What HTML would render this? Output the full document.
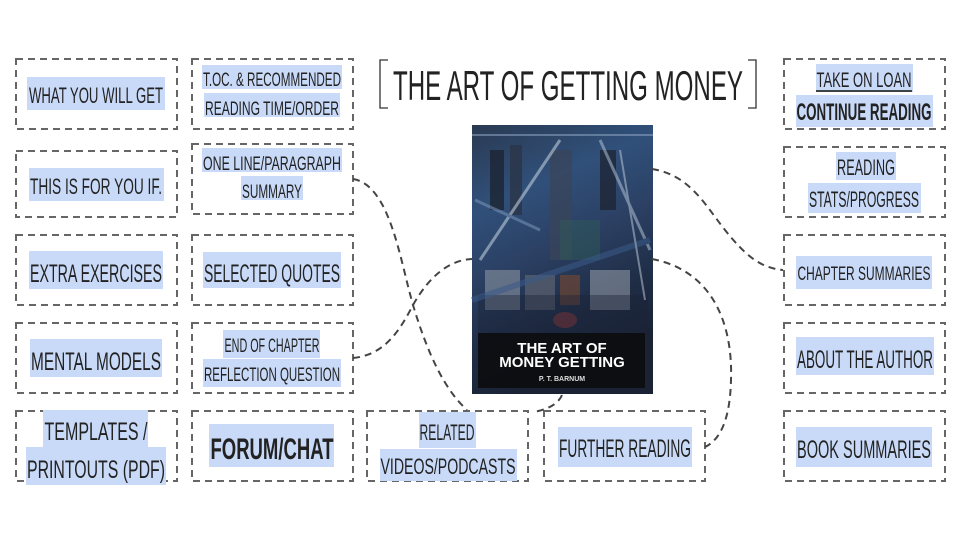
<!DOCTYPE html>
<html><head><meta charset="utf-8"><style>
html,body{margin:0;padding:0;background:#fff;width:960px;height:540px;overflow:hidden}
svg{display:block}
text{font-family:"Liberation Sans Narrow","Liberation Sans",sans-serif;fill:#222}
</style></head><body>
<svg width="960" height="540" viewBox="0 0 960 540" xmlns="http://www.w3.org/2000/svg">
<defs>
<linearGradient id="cv" x1="0" y1="0" x2="0.3" y2="1">
<stop offset="0" stop-color="#2a3a52"/><stop offset="0.3" stop-color="#30507a"/>
<stop offset="0.55" stop-color="#2b3f62"/><stop offset="0.8" stop-color="#1e2c44"/><stop offset="1" stop-color="#1a2234"/>
</linearGradient>
</defs>
<g fill="none" stroke="#666" stroke-width="2" stroke-dasharray="7,5">
<rect x="16" y="59" width="161" height="70"/>
<rect x="192" y="59" width="161" height="70"/>
<rect x="16" y="151" width="161" height="66"/>
<rect x="192" y="144" width="161" height="70"/>
<rect x="16" y="235" width="161" height="70"/>
<rect x="192" y="235" width="161" height="70"/>
<rect x="16" y="323" width="161" height="70"/>
<rect x="192" y="323" width="161" height="70"/>
<rect x="16" y="411" width="161" height="70"/>
<rect x="192" y="411" width="161" height="70"/>
<rect x="367" y="411" width="161" height="70"/>
<rect x="544" y="411" width="161" height="70"/>
<rect x="784" y="59" width="161" height="70"/>
<rect x="784" y="147" width="161" height="70"/>
<rect x="784" y="235" width="161" height="70"/>
<rect x="784" y="323" width="161" height="70"/>
<rect x="784" y="411" width="161" height="70"/>
</g>
<g fill="none" stroke="#333" stroke-width="1.3">
<path d="M388 60 H380 V108 H388"/>
<path d="M748 60 H756 V108 H748"/>
</g>
<text x="568" y="100" font-size="42" text-anchor="middle" textLength="350" lengthAdjust="spacingAndGlyphs">THE ART OF GETTING MONEY</text>
<!-- cover -->
<rect x="472" y="125" width="181" height="269" fill="url(#cv)"/>
<g>
<rect x="490" y="150" width="14" height="60" fill="#1c2433" opacity="0.8"/>
<rect x="510" y="145" width="12" height="70" fill="#2a3447" opacity="0.8"/>
<rect x="600" y="150" width="16" height="60" fill="#1e2636" opacity="0.8"/>
<rect x="550" y="150" width="22" height="110" fill="#3a4558" opacity="0.7"/>
<rect x="485" y="270" width="35" height="40" fill="#8a94a2" opacity="0.6"/>
<rect x="525" y="275" width="30" height="35" fill="#5d6470" opacity="0.7"/>
<rect x="590" y="270" width="40" height="40" fill="#9aa2ae" opacity="0.55"/>
<rect x="560" y="275" width="20" height="30" fill="#7a4a30" opacity="0.6"/>
<ellipse cx="565" cy="320" rx="12" ry="8" fill="#a03a3a" opacity="0.6"/>
<rect x="560" y="220" width="40" height="40" fill="#2d5a58" opacity="0.5"/>
<rect x="478" y="295" width="170" height="40" fill="#1c2436" opacity="0.4"/>
</g>
<g opacity="0.55" stroke-width="3">
<path d="M480 260 L560 140" stroke="#c9d6e4"/>
<path d="M600 140 L650 250" stroke="#aebfd4"/>
<path d="M475 200 L540 230" stroke="#7a94b8"/>
<path d="M472 300 L650 240" stroke="#3a5a8a" stroke-width="6"/>
<path d="M620 150 L645 300" stroke="#b8c4d4" stroke-width="2"/>
<path d="M472 135 L653 135" stroke="#8fa6c4" stroke-width="2"/>
</g>
<rect x="478" y="333" width="167" height="55" fill="#0c0c0e" opacity="0.9"/>
<text x="562" y="353" font-size="15" font-weight="bold" text-anchor="middle" style="fill:#fff;font-family:'Liberation Sans',sans-serif">THE ART OF</text>
<text x="562" y="367" font-size="15" font-weight="bold" text-anchor="middle" style="fill:#fff;font-family:'Liberation Sans',sans-serif">MONEY GETTING</text>
<text x="562" y="381" font-size="7" font-weight="bold" text-anchor="middle" style="fill:#ddd;font-family:'Liberation Sans',sans-serif">P. T. BARNUM</text>
<g fill="none" stroke="#444" stroke-width="2" stroke-dasharray="7,5">
<path d="M353 179 C390 185 400 260 413 305 C428 355 445 390 467 410"/>
<path d="M353 358 C385 355 400 330 413 305 C430 275 450 260 472 259"/>
<path d="M652 169 C690 175 705 205 725 230 C745 255 760 268 783 270"/>
<path d="M652 259 C710 270 733 320 731 380 C730 420 720 440 705 447"/>
<path d="M562 395 C558 405 545 410 534 412"/>
</g>
<g fill="#c9daf8">
<rect x="27" y="77" width="138" height="33"/>
<rect x="202" y="65" width="140" height="24"/><rect x="204" y="93" width="136" height="24"/>
<rect x="29" y="168" width="135" height="33"/>
<rect x="202" y="148" width="140" height="24"/><rect x="241" y="176" width="62" height="24"/>
<rect x="29" y="251" width="134" height="38"/>
<rect x="203" y="252" width="138" height="36"/>
<rect x="30" y="339" width="132" height="38"/>
<rect x="223" y="330" width="97" height="28"/><rect x="203" y="359" width="138" height="28"/>
<rect x="43" y="410" width="105" height="38"/><rect x="26" y="447" width="140" height="38"/>
<rect x="209" y="424" width="125" height="43"/>
<rect x="419" y="412" width="57" height="36"/><rect x="380" y="449" width="137" height="32"/>
<rect x="558" y="427" width="134" height="40"/>
<rect x="816" y="64" width="97" height="28"/><rect x="796" y="95" width="137" height="32"/>
<rect x="836" y="152" width="60" height="28"/><rect x="808" y="183" width="113" height="30"/>
<rect x="796" y="256" width="136" height="33"/>
<rect x="796" y="337" width="138" height="38"/>
<rect x="796" y="427" width="136" height="40"/>
</g>
<g font-size="22" text-anchor="middle">
<text x="96" y="103" textLength="134" lengthAdjust="spacingAndGlyphs">WHAT YOU WILL GET</text>
<text x="272" y="86" font-size="19" textLength="138" lengthAdjust="spacingAndGlyphs">T.OC. &amp; RECOMMENDED</text>
<text x="272" y="115" font-size="19" textLength="134" lengthAdjust="spacingAndGlyphs">READING TIME/ORDER</text>
<text x="96" y="194" textLength="132" lengthAdjust="spacingAndGlyphs">THIS IS FOR YOU IF.</text>
<text x="272" y="170" font-size="19" textLength="138" lengthAdjust="spacingAndGlyphs">ONE LINE/PARAGRAPH</text>
<text x="272" y="198" font-size="19" textLength="60" lengthAdjust="spacingAndGlyphs">SUMMARY</text>
<text x="96" y="282" font-size="25" textLength="132" lengthAdjust="spacingAndGlyphs">EXTRA EXERCISES</text>
<text x="272" y="282" font-size="25" textLength="136" lengthAdjust="spacingAndGlyphs">SELECTED QUOTES</text>
<text x="96" y="370" font-size="25" textLength="130" lengthAdjust="spacingAndGlyphs">MENTAL MODELS</text>
<text x="272" y="352" font-size="19" textLength="95" lengthAdjust="spacingAndGlyphs">END OF CHAPTER</text>
<text x="272" y="381" font-size="19" textLength="136" lengthAdjust="spacingAndGlyphs">REFLECTION QUESTION</text>
<text x="96" y="440" font-size="25" textLength="103" lengthAdjust="spacingAndGlyphs">TEMPLATES /</text>
<text x="96" y="478" font-size="25" textLength="138" lengthAdjust="spacingAndGlyphs">PRINTOUTS (PDF)</text>
<text x="272" y="459" font-size="30" font-weight="bold" textLength="123" lengthAdjust="spacingAndGlyphs">FORUM/CHAT</text>
<text x="447" y="440" textLength="55" lengthAdjust="spacingAndGlyphs">RELATED</text>
<text x="448" y="474" textLength="135" lengthAdjust="spacingAndGlyphs">VIDEOS/PODCASTS</text>
<text x="625" y="457" font-size="25" textLength="132" lengthAdjust="spacingAndGlyphs">FURTHER READING</text>
<text x="864" y="87" font-size="21" textLength="95" lengthAdjust="spacingAndGlyphs">TAKE ON LOAN</text>
<line x1="816" y1="91" x2="912" y2="91" stroke="#111" stroke-width="1.5"/>
<text x="864" y="120" font-size="24" font-weight="bold" textLength="135" lengthAdjust="spacingAndGlyphs">CONTINUE READING</text>
<text x="866" y="175" textLength="58" lengthAdjust="spacingAndGlyphs">READING</text>
<text x="864" y="207" textLength="110" lengthAdjust="spacingAndGlyphs">STATS/PROGRESS</text>
<text x="864" y="280" font-size="19" textLength="133" lengthAdjust="spacingAndGlyphs">CHAPTER SUMMARIES</text>
<text x="865" y="368" font-size="25" textLength="136" lengthAdjust="spacingAndGlyphs">ABOUT THE AUTHOR</text>
<text x="864" y="458" font-size="25" textLength="134" lengthAdjust="spacingAndGlyphs">BOOK SUMMARIES</text>
</g>
</svg>
</body></html>
